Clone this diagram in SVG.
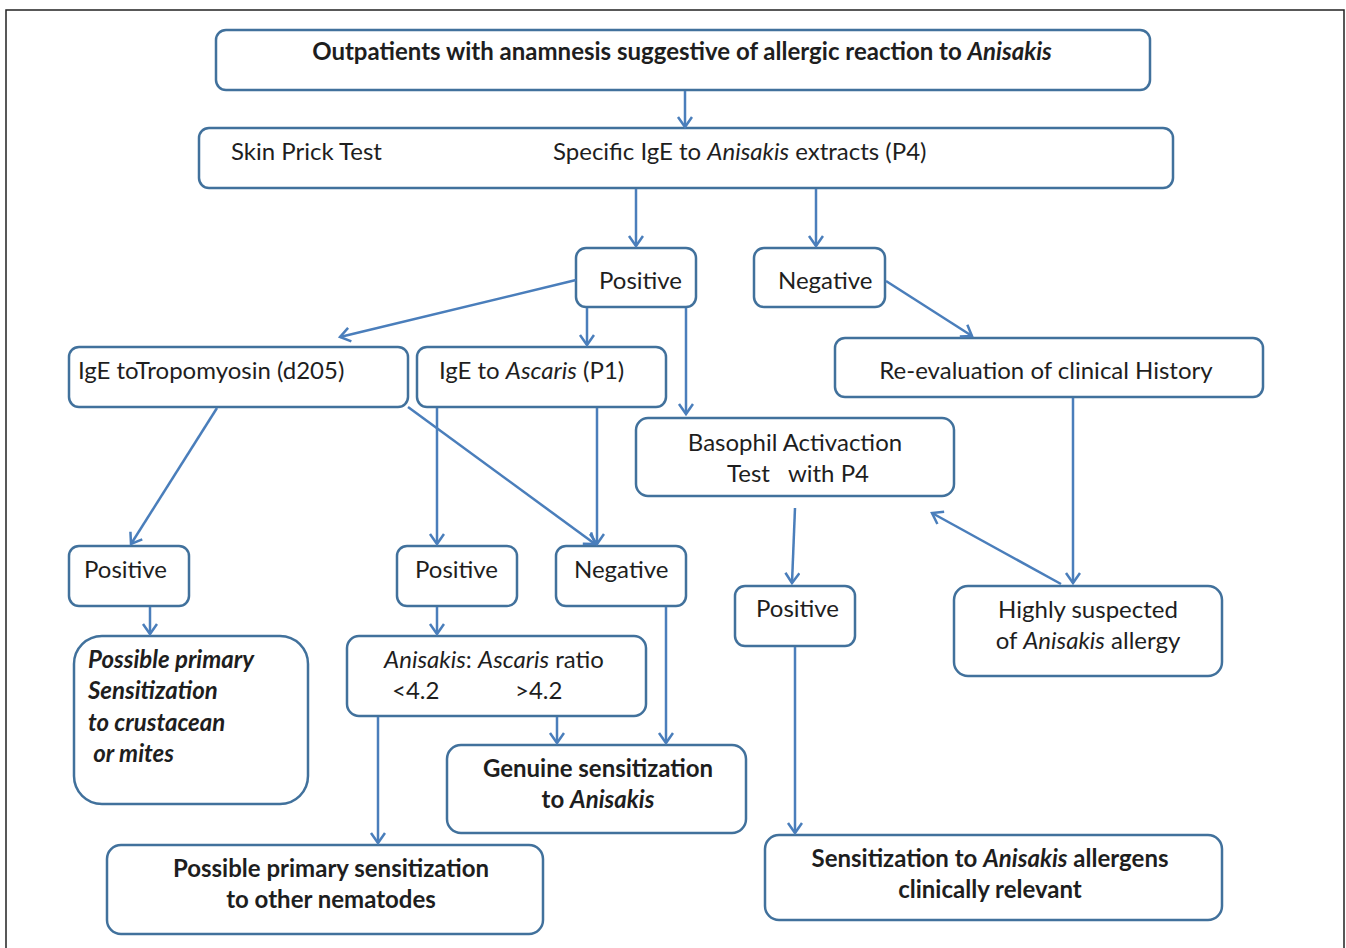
<svg xmlns="http://www.w3.org/2000/svg" width="1346" height="948" viewBox="0 0 1346 948">
<defs>
<marker id="ah" markerUnits="userSpaceOnUse" markerWidth="20" markerHeight="20" refX="11" refY="8" orient="auto">
<path d="M1,1 L11,8 L1,15" fill="none" stroke="#4a7ebb" stroke-width="2.5"/>
</marker>
<style>
.box{fill:#fff;stroke:#41719c;stroke-width:2.5}
.t{font-family:Lato,"Liberation Sans",sans-serif;font-size:24px;fill:#1e1e1e}
.b{font-weight:bold}
.i{font-style:italic}
.c{text-anchor:middle}
.cn line{stroke:#4a7ebb;stroke-width:2.5;marker-end:url(#ah)}
</style>
</defs>
<rect x="0" y="0" width="1346" height="948" fill="#fff"/>
<path d="M6,950 L6,10 L1344,10 L1344,950" fill="none" stroke="#222" stroke-width="1.5"/>

<g id="n-outpatients"><rect class="box" x="216" y="30" width="934" height="60" rx="10"/>
<text class="t b c" x="682" y="60">Outpatients with anamnesis suggestive of allergic reaction to <tspan class="i">Anisakis</tspan></text></g>

<g id="n-tests"><rect class="box" x="199" y="128" width="974" height="60" rx="10"/>
<text class="t" x="231" y="160">Skin Prick Test</text>
<text class="t" x="553" y="160">Specific IgE to <tspan class="i">Anisakis</tspan> extracts (P4)</text></g>

<g id="n-pos1"><rect class="box" x="576" y="248" width="120" height="59" rx="10"/>
<text class="t" x="599" y="289">Positive</text></g>

<g id="n-neg1"><rect class="box" x="754" y="248" width="131" height="59" rx="10"/>
<text class="t" x="778" y="289">Negative</text></g>

<g id="n-tropo"><rect class="box" x="69" y="347" width="339" height="60" rx="10"/>
<text class="t" x="78" y="379">IgE toTropomyosin (d205)</text></g>

<g id="n-ascaris"><rect class="box" x="417" y="347" width="249" height="60" rx="10"/>
<text class="t" x="439" y="379">IgE to <tspan class="i">Ascaris</tspan> (P1)</text></g>

<g id="n-reeval"><rect class="box" x="835" y="338" width="428" height="59" rx="10"/>
<text class="t c" x="1046" y="379">Re-evaluation of clinical History</text></g>

<g id="n-bat"><rect class="box" x="636" y="418" width="318" height="78" rx="12"/>
<text class="t c" x="795" y="451">Basophil Activaction</text>
<text class="t c" x="798" y="482" xml:space="preserve">Test   with P4</text></g>

<g id="n-pos2"><rect class="box" x="69" y="546" width="120" height="60" rx="10"/>
<text class="t" x="84" y="578">Positive</text></g>

<g id="n-pos3"><rect class="box" x="397" y="546" width="120" height="60" rx="10"/>
<text class="t" x="415" y="578">Positive</text></g>

<g id="n-neg2"><rect class="box" x="556" y="546" width="130" height="60" rx="10"/>
<text class="t" x="574" y="578">Negative</text></g>

<g id="n-pos4"><rect class="box" x="735" y="586" width="120" height="60" rx="10"/>
<text class="t" x="756" y="617">Positive</text></g>

<g id="n-suspected"><rect class="box" x="954" y="586" width="268" height="90" rx="14"/>
<text class="t c" x="1088" y="618">Highly suspected</text>
<text class="t c" x="1088" y="649">of <tspan class="i">Anisakis</tspan> allergy</text></g>

<g id="n-crust"><rect class="box" x="74" y="636" width="234" height="168" rx="28"/>
<text class="t b i" x="88" y="668">Possible primary</text>
<text class="t b i" x="88" y="699">Sensitization</text>
<text class="t b i" x="88" y="731">to crustacean</text>
<text class="t b i" x="88" y="762" xml:space="preserve"> or mites</text></g>

<g id="n-ratio"><rect class="box" x="347" y="636" width="299" height="80" rx="12"/>
<text class="t c" x="494" y="668"><tspan class="i">Anisakis</tspan>: <tspan class="i">Ascaris</tspan> ratio</text>
<text class="t" x="392" y="699">&lt;4.2</text>
<text class="t" x="515" y="699">&gt;4.2</text></g>

<g id="n-genuine"><rect class="box" x="447" y="745" width="299" height="88" rx="14"/>
<text class="t b c" x="598" y="777">Genuine sensitization</text>
<text class="t b c" x="598" y="808">to <tspan class="i">Anisakis</tspan></text></g>

<g id="n-nematodes"><rect class="box" x="107" y="845" width="436" height="89" rx="14"/>
<text class="t b c" x="331" y="877">Possible primary sensitization</text>
<text class="t b c" x="331" y="908">to other nematodes</text></g>

<g id="n-relevant"><rect class="box" x="765" y="835" width="457" height="85" rx="14"/>
<text class="t b c" x="990" y="867">Sensitization to <tspan class="i">Anisakis</tspan> allergens</text>
<text class="t b c" x="990" y="898">clinically relevant</text></g>

<g id="connectors" class="cn">
<line x1="685" y1="91" x2="685" y2="127"/>
<line x1="636" y1="189" x2="636" y2="246"/>
<line x1="816" y1="189" x2="816" y2="246"/>
<line x1="576" y1="280" x2="340" y2="337"/>
<line x1="587" y1="308" x2="587" y2="345"/>
<line x1="686" y1="308" x2="686" y2="414"/>
<line x1="886" y1="281" x2="972" y2="336"/>
<line x1="217" y1="408" x2="131" y2="544"/>
<line x1="408" y1="407" x2="595" y2="544"/>
<line x1="437" y1="408" x2="437" y2="544"/>
<line x1="597" y1="408" x2="597" y2="544"/>
<line x1="1073" y1="398" x2="1073" y2="583"/>
<line x1="1061" y1="584" x2="932" y2="513"/>
<line x1="795" y1="508" x2="792" y2="583"/>
<line x1="150" y1="607" x2="150" y2="634"/>
<line x1="437" y1="607" x2="437" y2="634"/>
<line x1="557" y1="717" x2="557" y2="743"/>
<line x1="666" y1="607" x2="666" y2="743"/>
<line x1="378" y1="717" x2="378" y2="843"/>
<line x1="795" y1="647" x2="795" y2="833"/>
</g>
</svg>
